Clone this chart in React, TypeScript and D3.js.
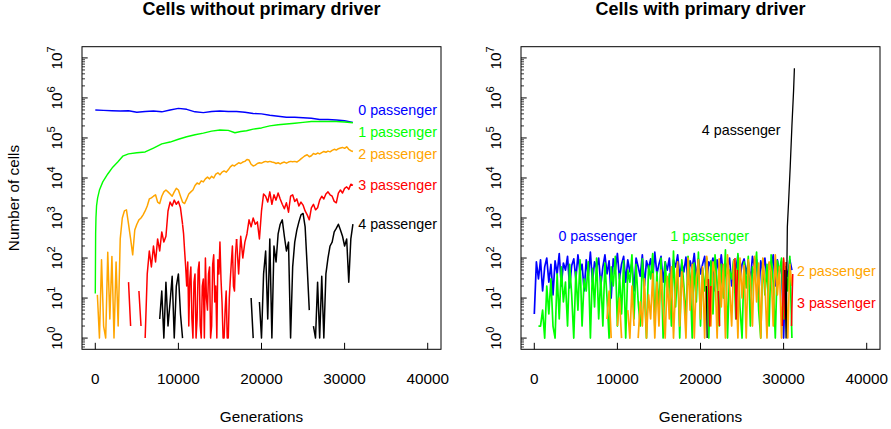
import * as d3 from "d3";

const FONT = "'Liberation Sans', Arial, Helvetica, sans-serif";

// generations sampled every 250 (0 .. 31000), 0 = no cells (gap on log scale)
const gens250 = d3.range(0, 31001, 250);

// ---- left panel: cells without primary driver ----
const gensBlueL = d3.range(0, 31001, 1000);
const blueL = [
  5.0e5, 4.9e5, 4.8e5, 4.7e5, 4.8e5, 4.4e5, 4.6e5, 4.7e5, 4.5e5, 5.0e5,
  5.5e5, 5.2e5, 4.5e5, 4.3e5, 4.6e5, 4.7e5, 4.6e5, 4.6e5, 4.4e5, 4.1e5,
  4.0e5, 3.7e5, 3.5e5, 3.3e5, 3.3e5, 3.2e5, 3.1e5, 2.9e5, 2.9e5, 2.8e5,
  2.7e5, 2.45e5,
];

const gensGreenL = [
  0, 40, 80, 150, 280, 500, 900, 1500, 2100, 2700,
  3300, 4000, 5000, 6000, 7000, 8000, 9000, 10000, 11000, 12000,
  13000, 14000, 15000, 16000, 16800, 17500, 18200, 19000, 20000, 21000,
  22000, 23000, 24000, 25000, 26000, 27000, 28000, 29000, 30000, 31000,
];
const greenL = [
  13, 400, 1000, 2000, 3200, 5000, 8000, 12600, 18600, 25000,
  35000, 40000, 42600, 44700, 56000, 71000, 79000, 93000, 107000, 120000,
  132000, 148000, 158000, 155000, 135000, 145000, 151000, 166000, 178000, 200000,
  214000, 224000, 234000, 245000, 257000, 257000, 257000, 257000, 251000, 240000,
];

const orangeL = [
  0, 12, 1, 90, 2, 1, 140, 3, 110, 1,
  80, 2, 300, 1000, 1500, 1600, 700, 300, 120, 500,
  700, 900, 1000, 1200, 1500, 2000, 3000, 3200, 3500, 3800,
  2500, 2300, 3500, 4500, 5000, 4500, 4000, 3500, 4500, 5500,
  5000, 3500, 2500, 2300, 3000, 4000, 4500, 5000, 6500, 7500,
  7000, 8500, 8000, 9500, 10500, 9500, 11000, 10000, 12500, 13500,
  12000, 14000, 15000, 14000, 16000, 19000, 21000, 20000, 22000, 24000,
  23000, 25000, 26000, 29000, 28000, 22000, 20000, 21000, 23000, 24000,
  23500, 25000, 26000, 25000, 26000, 25000, 24500, 23000, 24000, 22500,
  24000, 25000, 23500, 25000, 26000, 25500, 26000, 25000, 27000, 30000,
  33000, 36000, 38000, 34000, 36000, 41000, 39000, 42000, 40000, 43000,
  46000, 44000, 47000, 45000, 49000, 52000, 50000, 54000, 56000, 58000,
  55000, 60000, 52000, 48000, 46000,
];

// 10750..16750 is held in the finer redLDense series below
const redL = [
  0, 0, 0, 0, 0, 0, 0, 0, 0, 0,
  0, 0, 0, 0, 0, 0, 25, 2, 0, 0,
  0, 15, 2, 0, 1, 40, 150, 60, 200, 80,
  300, 150, 450, 250, 350, 1500, 2500, 2000, 2800, 2200,
  2600, 1800, 700, 0, 0, 0, 0, 0, 0, 0,
  0, 0, 0, 0, 0, 0, 0, 0, 0, 0,
  0, 0, 0, 0, 0, 0, 0, 0, 300, 40,
  350, 100, 250, 400, 900, 600, 1000, 700, 800, 300,
  1500, 4000, 3500, 2500, 4500, 2200, 3800, 2800, 4200, 3000,
  2200, 1700, 2400, 1400, 3500, 3800, 2600, 3000, 2000, 2500,
  2100, 1500, 1200, 900, 1800, 2200, 1600, 1800, 2800, 3500,
  3000, 4000, 4500, 3800, 3500, 2600, 2400, 4200, 5000, 4200,
  5500, 6000, 5200, 7000, 6500,
];

const gensRedLDense = d3.range(10500, 17001, 125);
const redLDense = [
  700, 400, 150, 60,
  20, 80, 2, 30, 60, 3, 1, 25,
  40, 1, 3, 50, 80, 2, 1, 20,
  30, 1, 100, 10, 5, 40, 60, 1,
  2, 70, 120, 8, 20, 1, 90, 40,
  250, 30, 8, 1, 1, 5, 15, 1,
  1, 10, 30, 80, 200, 20, 15, 120,
  300,
];

const blackL = [
  0, 0, 0, 0, 0, 0, 0, 0, 0, 0,
  0, 0, 0, 0, 0, 0, 0, 0, 0, 0,
  0, 0, 0, 0, 0, 0, 0, 0, 0, 0,
  0, 3, 15, 1, 25, 2, 8, 35, 1, 20,
  40, 4, 1, 0, 0, 0, 0, 0, 0, 0,
  0, 0, 0, 0, 0, 0, 0, 0, 0, 0,
  0, 0, 0, 0, 0, 0, 0, 0, 0, 0,
  0, 0, 0, 0, 0, 10, 1, 0, 0, 8,
  1, 40, 150, 3, 300, 1, 200, 80, 400, 700,
  900, 350, 150, 250, 1, 60, 250, 500, 800, 1200,
  1300, 600, 60, 5, 0, 2, 1, 25, 1, 35,
  1, 40, 100, 200, 250, 450, 550, 700, 500, 350,
  200, 300, 25, 300, 700,
];

// ---- right panel: cells with primary driver ----
const blueR = [
  4, 80, 30, 90, 15, 60, 100, 25, 70, 12,
  85, 40, 130, 20, 75, 50, 110, 18, 65, 95,
  30, 120, 45, 70, 15, 90, 35, 140, 25, 80,
  55, 100, 20, 60, 120, 40, 85, 10, 95, 50,
  130, 30, 70, 110, 25, 90, 45, 75, 15, 100,
  60, 35, 120, 20, 85, 55, 95, 30, 140, 40,
  70, 110, 25, 80, 50, 100, 18, 90, 60, 120,
  35, 75, 45, 105, 22, 85, 55, 130, 30, 95,
  40, 70, 110, 25, 80, 60, 100, 15, 90, 45,
  120, 35, 75, 55, 100, 20, 85, 50, 115, 30,
  70, 95, 40, 80, 25, 110, 60, 90, 12, 85,
  45, 100, 30, 75, 55, 120, 20, 90, 40, 80,
  1, 60, 35, 90, 50,
];

const greenR = [
  0, 0, 2, 2, 5, 1, 20, 4, 30, 2,
  1, 40, 3, 60, 8, 25, 2, 70, 12, 1,
  45, 5, 90, 2, 30, 15, 80, 1, 55, 6,
  100, 3, 35, 2, 75, 10, 1, 60, 20, 110,
  2, 40, 4, 85, 1, 50, 25, 120, 3, 70,
  8, 2, 95, 15, 1, 65, 30, 130, 2, 45,
  5, 100, 1, 80, 12, 40, 2, 150, 6, 60,
  1, 90, 20, 3, 110, 35, 1, 75, 8, 140,
  2, 55, 15, 100, 1, 85, 4, 120, 25, 2,
  70, 10, 160, 1, 50, 30, 90, 3, 130, 6,
  1, 80, 18, 110, 2, 60, 40, 140, 5, 1,
  95, 12, 70, 2, 120, 25, 1, 85, 45, 100,
  3, 60, 15, 110, 1,
];

const orangeR = [
  0, 0, 0, 0, 0, 0, 0, 0, 0, 0,
  0, 0, 0, 0, 0, 0, 0, 0, 0, 0,
  0, 0, 0, 0, 0, 0, 0, 0, 0, 0,
  0, 0, 0, 0, 0, 3, 15, 1, 0, 0,
  2, 10, 1, 0, 0, 5, 1, 20, 2, 0,
  1, 8, 2, 30, 1, 12, 3, 40, 1, 25,
  2, 50, 6, 1, 35, 3, 60, 1, 20, 80,
  2, 45, 10, 1, 100, 5, 70, 1, 30, 90,
  3, 60, 1, 110, 15, 2, 80, 40, 1, 95,
  6, 70, 1, 120, 20, 2, 85, 50, 1, 100,
  10, 65, 1, 90, 30, 2, 110, 8, 75, 1,
  100, 25, 1, 80, 45, 2, 120, 12, 60, 1,
  90, 35, 1, 70, 20,
];

const gensRedR = [
  20800, 20950, 21100, 21250, 21400,
  22000, 22150, 22300, 22450,
  24000, 24150, 24300, 24450, 24600,
  25100, 25250, 25400,
  26000, 26150, 26300,
  27400, 27550, 27700,
  29700, 29850, 30000, 30150, 30300, 30450,
  30800, 30950, 31100, 31200,
];
const redR = [
  0, 30, 2, 20, 0,
  0, 15, 2, 0,
  0, 100, 3, 50, 0,
  0, 25, 0,
  0, 60, 0,
  0, 12, 0,
  0, 2, 100, 3, 80, 0,
  0, 2, 40, 0,
];

const gensBlackR = [20600, 20700, 20800, 20900, 30000, 30150, 30300, 30450, 30600, 30800, 31000, 31200, 31300];
const blackR = [0, 20, 1, 0, 0, 50, 1, 600, 2500, 20000, 200000, 1500000, 5500000];

const labelsL = ["0 passenger", "1 passenger", "2 passenger", "3 passenger", "4 passenger"];
const labelGensL = [31640, 31640, 31640, 31640, 31640];
const labelValsL = [10 ** 5.71, 10 ** 5.14, 10 ** 4.6, 10 ** 3.83, 10 ** 2.85];
const labelsR = ["0 passenger", "1 passenger", "2 passenger", "3 passenger", "4 passenger"];
const labelGensR = [7640, 21100, 31610, 31610, 24900];
const labelValsR = [10 ** 2.55, 10 ** 2.55, 10 ** 1.675, 10 ** 0.88, 10 ** 5.21];
const labelAnchorR = ["middle", "middle", "start", "start", "middle"];

const colors = ["#0000ff", "#00ff00", "#ffa500", "#ff0000", "#000000"];
const xTicks = [0, 10000, 20000, 30000, 40000];

type Series = { gens: number[]; vals: number[]; color: string; width: number };

const seriesL: Series[] = [
  { gens: gensBlueL, vals: blueL, color: colors[0], width: 1.4 },
  { gens: gensGreenL, vals: greenL, color: colors[1], width: 1.4 },
  { gens: gens250, vals: orangeL, color: colors[2], width: 1.5 },
  { gens: gens250, vals: redL, color: colors[3], width: 1.5 },
  { gens: gensRedLDense, vals: redLDense, color: colors[3], width: 1.5 },
  { gens: gens250, vals: blackL, color: colors[4], width: 1.5 },
];
const seriesR: Series[] = [
  { gens: gens250, vals: blueR, color: colors[0], width: 1.7 },
  { gens: gens250, vals: greenR, color: colors[1], width: 1.7 },
  { gens: gens250, vals: orangeR, color: colors[2], width: 1.7 },
  { gens: gensRedR, vals: redR, color: colors[3], width: 1.5 },
  { gens: gensBlackR, vals: blackR, color: colors[4], width: 1.3 },
];

const TOP = 46.7;
const BOTTOM = 349.3;
const BOX_W = 359;

function Panel(props: {
  left: number;
  title: string;
  series: Series[];
  labels: string[];
  labelGens: number[];
  labelVals: number[];
  anchors: string[];
  yTitle: boolean;
}) {
  const { left, title, series, labels, labelGens, labelVals, anchors, yTitle } = props;
  const right = left + BOX_W;
  const x = d3.scaleLinear().domain([-1600, 41600]).range([left, right]);
  const y = d3.scaleLog().domain([10 ** -0.28, 10 ** 7.28]).range([BOTTOM, TOP]);
  const line = d3
    .line<[number, number]>()
    .defined((d) => d[1] > 0)
    .x((d) => x(d[0]))
    .y((d) => y(d[1]));

  const majors = d3.range(0, 8);
  const minors: number[] = [];
  for (let k = -1; k <= 6; k++) {
    for (let m = 2; m <= 9; m++) {
      const v = m * 10 ** k;
      if (v > 10 ** -0.28 && v < 10 ** 7.28) minors.push(v);
    }
  }
  const cx = (left + right) / 2;

  return (
    <g fontFamily={FONT}>
      <text x={cx} y={15} textAnchor="middle" fontSize={18} fontWeight="bold">
        {title}
      </text>

      {series.map((s, i) => (
        <path
          key={i}
          d={line(s.gens.map((g, j) => [g, s.vals[j]] as [number, number])) || ""}
          fill="none"
          stroke={s.color}
          strokeWidth={s.width}
          strokeLinejoin="round"
        />
      ))}

      <rect x={left} y={TOP} width={BOX_W} height={BOTTOM - TOP} fill="none" stroke="#000" strokeWidth={1} />

      {xTicks.map((t) => (
        <g key={t}>
          <line x1={x(t)} x2={x(t)} y1={BOTTOM} y2={BOTTOM - 6.5} stroke="#000" />
          <text x={x(t)} y={384} textAnchor="middle" fontSize={15.3}>
            {t}
          </text>
        </g>
      ))}
      {majors.map((k) => (
        <g key={k}>
          <line x1={left} x2={left + 5.7} y1={y(10 ** k)} y2={y(10 ** k)} stroke="#000" />
          <text transform={`translate(${left - 20.5},${y(10 ** k)}) rotate(-90)`} textAnchor="middle" fontSize={15.3}>
            10
            <tspan dy={-6.5} fontSize={11}>
              {k}
            </tspan>
          </text>
        </g>
      ))}
      {minors.map((v, i) => (
        <line key={i} x1={left} x2={left + 3} y1={y(v)} y2={y(v)} stroke="#000" strokeWidth={0.8} />
      ))}

      <text x={cx} y={422} textAnchor="middle" fontSize={15.3}>
        Generations
      </text>
      {yTitle && (
        <text transform={`translate(19,${(TOP + BOTTOM) / 2}) rotate(-90)`} textAnchor="middle" fontSize={15.3}>
          Number of cells
        </text>
      )}

      {labels.map((t, i) => (
        <text
          key={t}
          x={x(labelGens[i])}
          y={y(labelVals[i])}
          dy="0.35em"
          textAnchor={anchors[i]}
          fontSize={14.3}
          fill={colors[i]}
        >
          {t}
        </text>
      ))}
    </g>
  );
}

export default function App() {
  return (
    <svg
      width={891}
      height={429}
      style={{ position: "absolute", left: 0, top: 0, background: "#fff" }}
    >
      <Panel
        left={82}
        title="Cells without primary driver"
        series={seriesL}
        labels={labelsL}
        labelGens={labelGensL}
        labelVals={labelValsL}
        anchors={["start", "start", "start", "start", "start"]}
        yTitle={true}
      />
      <Panel
        left={521}
        title="Cells with primary driver"
        series={seriesR}
        labels={labelsR}
        labelGens={labelGensR}
        labelVals={labelValsR}
        anchors={labelAnchorR}
        yTitle={false}
      />
    </svg>
  );
}
